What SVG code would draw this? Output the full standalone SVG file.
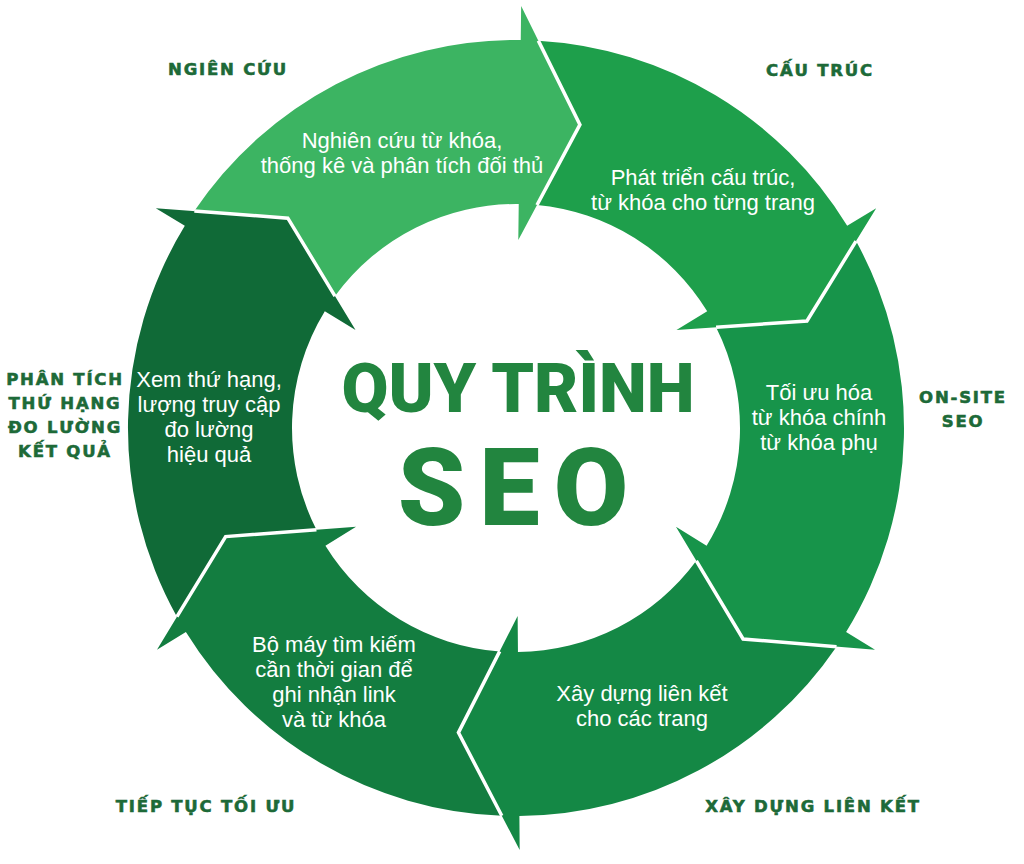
<svg xmlns="http://www.w3.org/2000/svg" width="1024" height="864" viewBox="0 0 1024 864">
  <style>
    .inner { font-family: "Liberation Sans", Arial, sans-serif; font-size: 22px; fill: #ffffff; text-anchor: middle; }
    .label { font-family: "DejaVu Sans", "Noto Sans", sans-serif; font-weight: bold; font-size: 16.5px; letter-spacing: 1.8px; fill: #1d6a38; stroke: #1d6a38; stroke-width: 0.6; text-anchor: middle; }
    .title { font-family: Roboto, Inter, "Noto Sans", sans-serif; font-weight: 900; fill: #22853f; text-anchor: middle; }
    .gap { fill: none; stroke: #ffffff; stroke-width: 3.5; stroke-linejoin: miter; }
  </style>
  <rect width="1024" height="864" fill="#ffffff"/>

  <g id="step-nghien-cuu">
    <path fill="#3cb462" d="M194.33,211.03 A388,388 0 0 1 520.74,40.03 L521.16,6.03 L579.92,124.66 L518.30,240.01 L518.74,204.02 A224,224 0 0 0 334.99,296.04 L287.81,218.17 Z"/>
    <text class="inner" x="402" y="148">Nghiên cứu từ khóa,</text>
    <text class="inner" x="402" y="173">thống kê và phân tích đối thủ</text>
    <text class="label" x="228" y="75">NGIÊN CỨU</text>
  </g>

  <g id="step-cau-truc">
    <path fill="#1e9f4b" d="M538.33,40.64 A388,388 0 0 1 847.18,225.85 L876.20,208.13 L806.93,320.96 L676.47,330.05 L707.20,311.29 A224,224 0 0 0 537.00,204.99 L579.92,124.66 Z"/>
    <text class="inner" x="703" y="185">Phát triển cấu trúc,</text>
    <text class="inner" x="703" y="210">từ khóa cho từng trang</text>
    <text class="label" x="820" y="76">CẤU TRÚC</text>
  </g>

  <g id="step-on-site">
    <path fill="#17944a" d="M856.01,241.08 A388,388 0 0 1 846.11,631.88 L875.04,649.75 L743.09,639.02 L675.95,526.79 L706.58,545.71 A224,224 0 0 0 716.08,327.28 L806.93,320.96 Z"/>
    <text class="inner" x="819" y="400">Tối ưu hóa</text>
    <text class="inner" x="819" y="425">từ khóa chính</text>
    <text class="inner" x="819" y="450">từ khóa phụ</text>
    <text class="label" x="963" y="403">ON-SITE</text>
    <text class="label" x="963" y="427">SEO</text>
  </g>

  <g id="step-xay-dung-lien-ket">
    <path fill="#148845" d="M836.53,646.65 A388,388 0 0 1 519.39,815.98 L519.68,849.98 L458.44,732.61 L517.64,615.99 L517.95,651.99 A224,224 0 0 0 696.34,560.87 L743.09,639.02 Z"/>
    <text class="inner" x="642" y="701">Xây dựng liên kết</text>
    <text class="inner" x="642" y="726">cho các trang</text>
    <text class="label" x="813" y="812">XÂY DỰNG LIÊN KẾT</text>
  </g>

  <g id="step-tiep-tuc-toi-uu">
    <path fill="#137d40" d="M501.78,815.74 A388,388 0 0 1 185.89,631.88 L156.96,649.75 L225.63,536.57 L356.05,526.79 L325.42,545.71 A224,224 0 0 0 499.67,651.40 L458.44,732.61 Z"/>
    <text class="inner" x="334" y="652">Bộ máy tìm kiếm</text>
    <text class="inner" x="334" y="677">cần thời gian để</text>
    <text class="inner" x="334" y="702">ghi nhận link</text>
    <text class="inner" x="334" y="727">và từ khóa</text>
    <text class="label" x="206" y="812">TIẾP TỤC TỐI ƯU</text>
  </g>

  <g id="step-phan-tich">
    <path fill="#106a37" d="M176.92,616.70 A388,388 0 0 1 184.82,225.85 L155.80,208.13 L287.81,218.17 L355.53,330.05 L324.80,311.29 A224,224 0 0 0 316.45,529.75 L225.63,536.57 Z"/>
    <text class="inner" x="209" y="387">Xem thứ hạng,</text>
    <text class="inner" x="209" y="412">lượng truy cập</text>
    <text class="inner" x="209" y="437">đo lường</text>
    <text class="inner" x="209" y="462">hiệu quả</text>
    <text class="label" x="65" y="385">PHÂN TÍCH</text>
    <text class="label" x="65" y="409">THỨ HẠNG</text>
    <text class="label" x="65" y="433">ĐO LƯỜNG</text>
    <text class="label" x="65" y="457">KẾT QUẢ</text>
  </g>

  <g id="separators">
    <polyline class="gap" points="538.33,40.64 579.92,124.66 537.00,204.99"/>
    <polyline class="gap" points="856.01,241.08 806.93,320.96 716.08,327.28"/>
    <polyline class="gap" points="836.53,646.65 743.09,639.02 696.34,560.87"/>
    <polyline class="gap" points="501.78,815.74 458.44,732.61 499.67,651.40"/>
    <polyline class="gap" points="176.92,616.70 225.63,536.57 316.45,529.75"/>
    <polyline class="gap" points="194.33,211.03 287.81,218.17 334.99,296.04"/>
  </g>

  <g id="title">
    <text class="title" x="518" y="412" font-size="68">QUY TRÌNH</text>
    <text class="title" x="520" y="525" font-size="108" letter-spacing="14">SEO</text>
  </g>
</svg>
